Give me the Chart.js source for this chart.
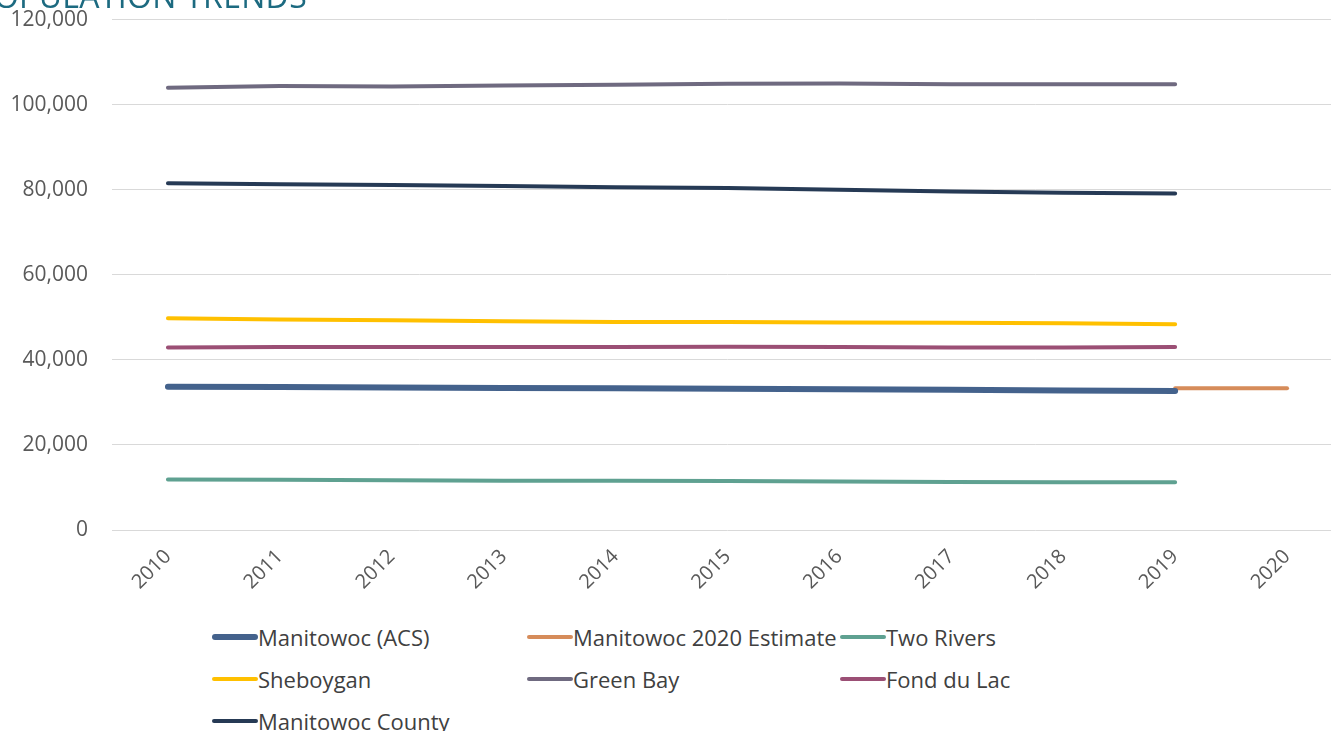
<!DOCTYPE html>
<html lang="en">
<head>
<meta charset="UTF-8">
<title>Population Trends</title>
<script src="https://cdn.jsdelivr.net/npm/chart.js"></script>
<style>
    html, body {
        margin: 0;
        padding: 0;
        background: #fff;
        overflow: hidden;
        width: 1331px;
        height: 731px;
        font-family: "Open Sans", sans-serif;
    }
    .title {
        position: absolute;
        right: calc(1331px - 307px);
        top: -26px;
        font-size: 32px;
        color: #1c6a80;
        white-space: nowrap;
        letter-spacing: 0.3px;
    }
    .wrap {
        position: absolute;
        left: 0;
        top: -17px;
        width: 1343px;
        height: 629px;
    }
    #legend {
        position: absolute;
        left: 212px;
        top: 621px;
        display: grid;
        grid-template-columns: 315px 313px 220px;
        row-gap: 11px;
        font-size: 22px;
        color: #404040;
    }
    .item {
        display: flex;
        align-items: center;
        height: 31px;
        white-space: nowrap;
    }
    .swatch {
        display: inline-block;
        width: 46px;
        border-radius: 3px;
    }
</style>
</head>
<body>
<div class="wrap"><canvas id="chart"></canvas></div>
<div class="title">POPULATION TRENDS</div>
<div id="legend"></div>

<script>
    const years = ['2010', '2011', '2012', '2013', '2014', '2015', '2016', '2017', '2018', '2019', '2020'];

    const manitowocAcs = [33700, 33600, 33500, 33400, 33300, 33200, 33100, 33000, 32800, 32700, null];
    const manitowocEstimate = [null, null, null, null, null, null, null, null, null, 33300, 33300];
    const twoRivers = [11900, 11800, 11700, 11600, 11600, 11500, 11400, 11300, 11200, 11200, null];
    const sheboygan = [49800, 49500, 49300, 49100, 48900, 48900, 48800, 48700, 48600, 48400, null];
    const greenBay = [104000, 104400, 104300, 104500, 104700, 104900, 105000, 104800, 104800, 104800, null];
    const fondDuLac = [42900, 43000, 43000, 43000, 43000, 43100, 43000, 42900, 42900, 43000, null];
    const manitowocCounty = [81500, 81300, 81100, 80900, 80600, 80400, 80000, 79600, 79300, 79100, null];

    const yTicks = [0, 20000, 40000, 60000, 80000, 100000, 120000];

    function line(label, data, color, width) {
        return {
            label: label,
            data: data,
            borderColor: color,
            backgroundColor: color,
            borderWidth: width,
            borderCapStyle: 'round',
            borderJoinStyle: 'round',
            pointRadius: 0,
            tension: 0,
            spanGaps: false
        };
    }

    const datasets = [
        line('Manitowoc (ACS)', manitowocAcs, '#44628c', 6),
        line('Manitowoc 2020 Estimate', manitowocEstimate, '#d68c5a', 4),
        line('Two Rivers', twoRivers, '#5fa191', 4),
        line('Sheboygan', sheboygan, '#ffc000', 4),
        line('Green Bay', greenBay, '#6f6a80', 4),
        line('Fond du Lac', fondDuLac, '#9b4f75', 4),
        line('Manitowoc County', manitowocCounty, '#263a55', 4)
    ];

    const ctx = document.getElementById('chart').getContext('2d');

    new Chart(ctx, {
        type: 'line',
        data: { labels: years, datasets: datasets },
        options: {
            responsive: true,
            maintainAspectRatio: false,
            animation: false,
            layout: { padding: { top: 2, right: 0, left: 0, bottom: 0 } },
            plugins: {
                legend: { display: false },
                tooltip: { enabled: false }
            },
            scales: {
                x: {
                    offset: true,
                    grid: { display: false, drawTicks: false },
                    border: { display: false },
                    ticks: {
                        minRotation: 45,
                        maxRotation: 45,
                        padding: 15,
                        color: '#595959',
                        font: { family: 'Open Sans', size: 20 }
                    },
                    afterFit: function (scale) { scale.height = 82; }
                },
                y: {
                    min: 0,
                    max: 120000,
                    afterBuildTicks: function (scale) {
                        scale.ticks = yTicks.map(v => ({ value: v }));
                    },
                    grid: { color: '#d9d9d9', lineWidth: 1, drawTicks: false },
                    border: { display: false },
                    ticks: {
                        padding: 24,
                        color: '#595959',
                        font: { family: 'Open Sans', size: 21 },
                        callback: function (v) { return v.toLocaleString('en-US'); }
                    },
                    afterFit: function (scale) { scale.width = 112; }
                }
            }
        }
    });

    // legend in three fixed columns, same order as the datasets
    const legend = document.getElementById('legend');
    datasets.forEach(ds => {
        const item = document.createElement('div');
        item.className = 'item';
        const sw = document.createElement('span');
        sw.className = 'swatch';
        sw.style.background = ds.borderColor;
        sw.style.height = (ds.borderWidth === 6 ? 6 : 4) + 'px';
        item.appendChild(sw);
        item.appendChild(document.createTextNode(ds.label));
        legend.appendChild(item);
    });
</script>
</body>
</html>
